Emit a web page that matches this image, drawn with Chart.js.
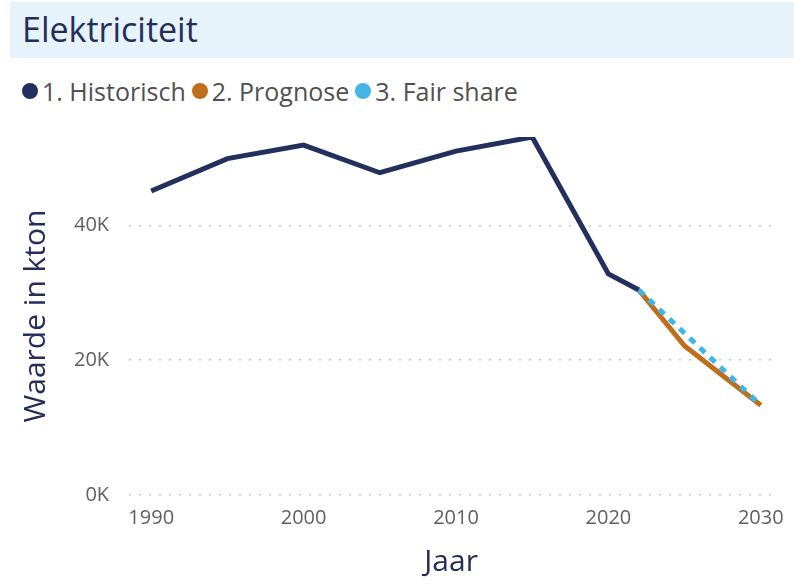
<!DOCTYPE html>
<html>
<head>
<meta charset="utf-8">
<script src="https://cdn.jsdelivr.net/npm/chart.js@4"></script>
<style>
  body { margin: 0; background: #fff; font-family: "Open Sans", sans-serif; }
  #title {
    position: absolute; left: 10px; top: 2px; width: 784px; height: 56px;
    background: #e6f3fa; color: #252d5a; font-size: 34px; line-height: 54px;
    padding-left: 12px; box-sizing: border-box;
  }
  #legend {
    position: absolute; left: 22px; top: 74px; display: flex; align-items: center;
    font-size: 25px; color: #505050; line-height: 34px;
  }
  .item { display: flex; align-items: center; margin-right: 6px; }
  .dot { width: 16px; height: 16px; border-radius: 50%; margin-right: 4px; }
  #chart { position: absolute; left: 0; top: 66px; width: 794px; height: 519px; }
</style>
</head>
<body>
<div id="title">Elektriciteit</div>
<div id="legend"></div>
<div id="chart"><canvas id="lineChart"></canvas></div>
<script>
// data (kton)
const historicYears = [1990, 1995, 2000, 2005, 2010, 2015, 2020, 2022];
const historicValues = [45100, 49900, 51900, 47800, 51000, 53100, 32800, 30400];
const prognoseYears = [2022, 2025, 2030];
const prognoseValues = [30400, 22100, 13300];
const fairShareYears = [2022, 2030];
const fairShareValues = [30400, 13300];
const xTicks = [1990, 2000, 2010, 2020, 2030];
const yTicks = [0, 20000, 40000];

const toPoints = (xs, ys) => xs.map((x, i) => ({ x: x, y: ys[i] }));

const navy = "#232f5c";
const orange = "#bf6f1b";
const lightBlue = "#41b6e6";

const data = {
  datasets: [
    {
      label: "1. Historisch",
      data: toPoints(historicYears, historicValues),
      borderColor: navy,
      backgroundColor: navy,
      borderWidth: 5,
      order: 1,
    },
    {
      label: "2. Prognose",
      data: toPoints(prognoseYears, prognoseValues),
      borderColor: orange,
      backgroundColor: orange,
      borderWidth: 5,
      order: 2,
    },
    {
      label: "3. Fair share",
      data: toPoints(fairShareYears, fairShareValues),
      borderColor: lightBlue,
      backgroundColor: lightBlue,
      borderWidth: 5,
      borderDash: [7, 7],
      order: 0,
    },
  ],
};

const config = {
  type: "line",
  data: data,
  options: {
    responsive: true,
    maintainAspectRatio: false,
    animation: false,
    elements: { point: { radius: 0 }, line: { tension: 0, borderCapStyle: "butt" } },
    layout: { padding: { left: 12, right: 21, top: 71, bottom: 5 } },
    plugins: {
      tooltip: { enabled: false },
      legend: { display: false },
    },
    scales: {
      x: {
        type: "linear",
        min: 1988.55,
        max: 2030.8,
        afterBuildTicks: (axis) => { axis.ticks = xTicks.map((v) => ({ value: v })); },
        grid: { display: false },
        border: { display: false },
        ticks: {
          color: "#606060",
          font: { family: "Open Sans", size: 20 },
          padding: 3,
          maxRotation: 0,
          callback: (v) => String(v),
        },
        title: {
          display: true,
          text: "Jaar",
          color: "#252d5a",
          font: { family: "Open Sans", size: 30 },
          padding: { top: 11, bottom: 0 },
        },
      },
      y: {
        min: 0,
        // Power BI style: axis ends at the highest value
        max: Math.max(...historicValues),
        afterBuildTicks: (axis) => { axis.ticks = yTicks.map((v) => ({ value: v })); },
        grid: { color: "#c8c8c8", lineWidth: 1.5, drawTicks: false },
        border: { display: false, dash: [2, 8] },
        ticks: {
          color: "#606060",
          font: { family: "Open Sans", size: 20 },
          padding: 20,
          callback: (v) => v / 1000 + "K",
        },
        title: {
          display: true,
          text: "Waarde in kton",
          color: "#252d5a",
          font: { family: "Open Sans", size: 30 },
          padding: { top: 6, bottom: 0 },
        },
      },
    },
  },
};

const chart = new Chart(document.querySelector("#lineChart"), config);

// simple html legend from the datasets
const legendBox = document.querySelector("#legend");
chart.data.datasets.forEach((ds) => {
  const item = document.createElement("div");
  item.className = "item";
  item.innerHTML = `<span class="dot" style="background:${ds.borderColor}"></span>${ds.label}`;
  legendBox.appendChild(item);
});
</script>
</body>
</html>
